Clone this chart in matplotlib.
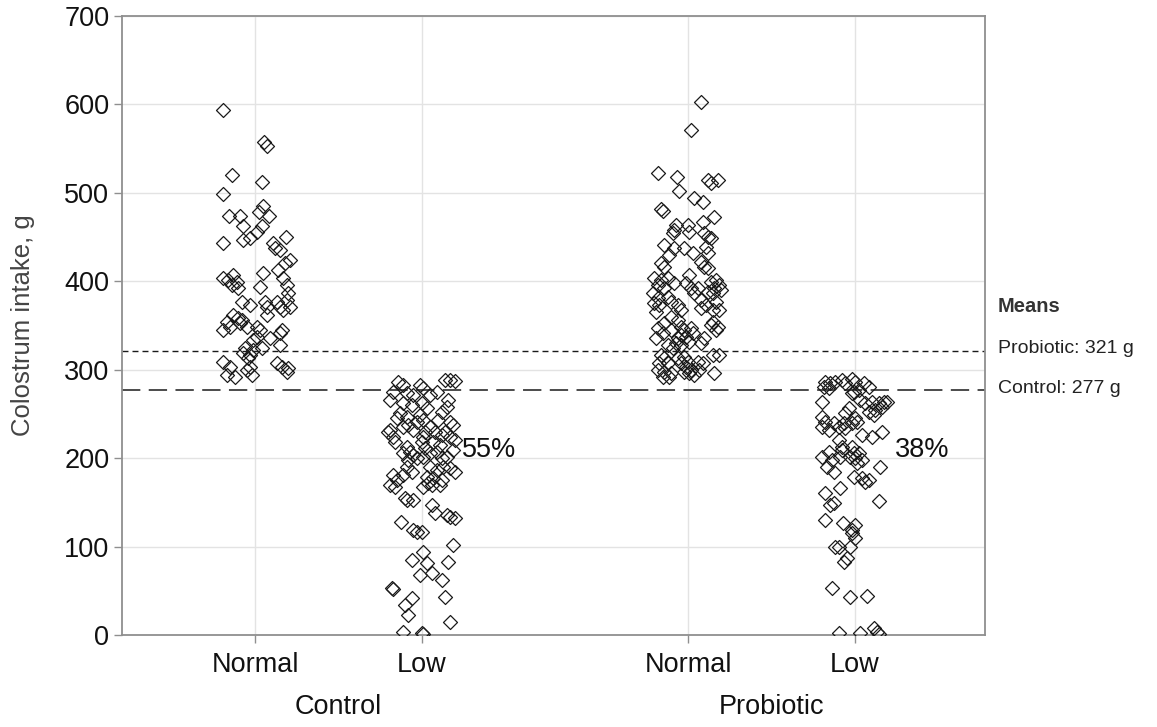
import numpy as np
import matplotlib
matplotlib.use("Agg")
import matplotlib.pyplot as plt
import matplotlib.transforms as mtransforms
from matplotlib.markers import MarkerStyle

plt.rcParams['font.family'] = ['Liberation Sans', 'DejaVu Sans']

# category layout
groups = ["Control", "Probiotic"]
levels = ["Normal", "Low"]
positions = [0.8, 1.8, 3.4, 4.4]
pct_labels = ["55%", "38%"]
mean_control = 277
mean_probiotic = 321

# colostrum intake (g) and horizontal jitter (px) per cell
ctrl_normal = [594, 557, 553, 520, 512, 499, 474, 474, 485, 478, 474, 463, 463, 456,
               443, 447, 449, 450, 443, 438, 435, 424, 421, 413, 409, 394, 404, 401,
               407, 399, 396, 392, 404, 396, 387, 379, 371, 368, 371, 377, 373, 377,
               371, 377, 362, 362, 358, 356, 354, 345, 348, 353, 348, 348, 345, 345,
               341, 337, 334, 336, 328, 325, 319, 317, 313, 322, 325, 309, 303, 294,
               292, 303, 294, 300, 308, 303, 302, 297]
ctrl_normal_jit = [-32, 9, 12, -23, 7, -32, -26, -15, 8, 4, 14, -12, 7, 2,
                   -32, -12, -5, 31, 18, 20, 25, 35, 30, 23, 8, 5, -32, -27,
                   -22, -18, -23, -17, 28, 32, 33, 32, 35, 28, 25, -13, -5, 10,
                   12, 22, 12, -22, -17, -13, -28, -32, -25, -15, -8, 2, 5, 27,
                   25, 2, -2, 15, 25, -10, -12, -5, -7, -2, 7, -32, -25, -28,
                   -20, -5, -3, -8, 22, 27, 33, 32]

ctrl_low = [286, 283, 283, 279, 288, 288, 287, 275, 274, 271, 271, 275, 266, 262,
            260, 262, 257, 266, 258, 251, 247, 245, 249, 243, 241, 252, 243, 241,
            237, 237, 235, 232, 232, 224, 230, 235, 230, 230, 230, 226, 224, 220,
            224, 218, 218, 218, 215, 213, 207, 204, 206, 200, 198, 211, 206, 201,
            207, 200, 201, 209, 189, 184, 190, 187, 190, 190, 184, 181, 181, 175,
            170, 167, 179, 178, 172, 170, 167, 175, 170, 155, 153, 153, 147, 138,
            136, 133, 132, 128, 119, 116, 116, 102, 94, 85, 81, 83, 68, 70, 62,
            53, 52, 42, 34, 43, 23, 15, 3, 2, 1]
ctrl_low_jit = [-24, -19, -2, 1, 23, 28, 33, -29, -15, -9, 8, 15, -32, -19,
                -10, 0, 5, 26, 25, -22, -15, -25, -2, 1, -5, 20, 16, 28,
                31, -14, -19, -9, -32, -29, -34, 8, 3, 13, 23, 20, 28, 33,
                1, 0, -27, 11, 18, -15, -12, -9, -19, -5, -14, 3, 8, 1,
                15, 20, 25, 31, 28, 33, 8, 15, 21, -15, -10, -19, -29, -25,
                -32, -27, 5, 11, 6, 10, 1, 20, 18, -17, -15, -9, 10, 13,
                25, 28, 33, -21, -9, -5, 0, 31, 1, -10, 5, 26, -2, 10, 20,
                -30, -29, -10, -17, 23, -14, 28, -19, 0, 1]

prob_normal = [603, 571, 522, 518, 514, 511, 514, 502, 494, 490, 482, 480, 473, 467,
               464, 458, 455, 464, 456, 455, 450, 449, 441, 438, 438, 432, 439, 432,
               430, 421, 416, 422, 416, 415, 404, 401, 404, 398, 396, 392, 407, 398,
               392, 392, 387, 399, 401, 396, 392, 390, 388, 387, 387, 381, 375, 373,
               365, 382, 377, 373, 368, 379, 373, 377, 368, 368, 370, 360, 356, 353,
               347, 336, 342, 345, 348, 345, 339, 336, 337, 331, 330, 328, 342, 347,
               354, 348, 345, 351, 336, 330, 325, 328, 317, 313, 308, 308, 300, 297,
               296, 292, 292, 313, 314, 308, 309, 303, 300, 297, 296, 294, 300, 308,
               309, 317, 317, 296]
prob_normal_jit = [13, 3, -30, -11, 20, 23, 30, -9, 6, 15, -27, -25, 26, 15,
                   -12, -14, -15, 0, 1, 16, 20, 23, -24, -14, -4, 5, 18, 20,
                   -19, -27, -24, 13, 16, 20, -34, -27, -20, -14, -30, -24, 1, -2,
                   3, 10, 6, 23, 28, 31, 26, 33, 20, 25, -35, -30, -34, -29,
                   -32, -20, -17, -10, -7, 13, 18, 28, 25, 31, 13, -17, -10, -24,
                   -30, -32, -25, -17, -7, -4, -7, -10, -2, 1, -12, -7, 5, 3,
                   25, 30, 28, 23, 16, 13, -15, -20, -27, -24, -29, -20, -30, -24,
                   -17, -25, -19, -10, -4, -7, 0, -2, 3, -4, 1, 6, 11, 15,
                   10, 25, 31, 26]

prob_low = [286, 285, 280, 279, 286, 288, 285, 289, 286, 285, 280, 277, 274, 275,
            263, 266, 262, 263, 262, 263, 263, 254, 252, 249, 258, 257, 251, 245,
            247, 241, 235, 232, 240, 235, 240, 234, 240, 241, 220, 213, 226, 224,
            230, 201, 207, 198, 190, 184, 201, 209, 213, 206, 200, 206, 198, 194,
            201, 190, 179, 178, 173, 175, 161, 166, 152, 147, 149, 130, 127, 124,
            119, 115, 110, 100, 100, 100, 87, 83, 53, 43, 44, 2, 2, 8, 3, 1]
prob_low_jit = [-30, -25, -31, -26, -20, -13, -10, -3, 0, 9, 14, 4, -3, -1,
                -33, 5, 10, 17, 24, 29, 32, 20, 14, 19, 27, -6, -10, 0,
                -33, -30, -33, -26, -21, -16, -11, -10, -3, 2, -16, -13, 7, 17,
                27, -33, -26, -23, -28, -21, -15, -13, -3, -1, 0, 4, 7, 2,
                -5, 25, -1, 7, 10, 14, -30, -15, 24, -25, -21, -30, -12, 0,
                -3, -3, 0, -20, -16, -5, -8, -11, -23, -5, 12, -16, 5, 19, 22, 24]

cells = [(ctrl_normal, ctrl_normal_jit), (ctrl_low, ctrl_low_jit),
         (prob_normal, prob_normal_jit), (prob_low, prob_low_jit)]

fig = plt.figure(figsize=(11.57, 7.27), dpi=100)
ax = fig.add_axes([0.1054, 0.1265, 0.7459, 0.8515])

diamond = MarkerStyle("D", joinstyle="round")
for pos, (vals, jit) in zip(positions, cells):
    x = pos + np.array(jit) / 166.5
    ax.plot(x, vals, linestyle="none", marker=diamond, ms=7, mfc="none",
            mec="#1a1a1a", mew=0.9, zorder=3)

# mean lines
ax.axhline(mean_probiotic, color="#1a1a1a", lw=1.0, dashes=(4.3, 2.9), zorder=2)
ax.axhline(mean_control, color="#1a1a1a", lw=1.1, dashes=(12, 5.5), zorder=2)

ax.set_xlim(0, 5.18)
ax.set_ylim(0, 700)
ax.set_yticks(range(0, 701, 100))
ax.set_xticks(positions, levels * 2)
ax.grid(True, color="#e3e3e3", lw=1.0, zorder=0)
ax.set_axisbelow(True)
for sp in ax.spines.values():
    sp.set_color("#8f8f8f")
    sp.set_linewidth(1.3)
ax.tick_params(axis="both", length=6, width=1.0, color="#8f8f8f",
               labelsize=19.5, labelcolor="#111111", pad=3)
ax.tick_params(axis="x", pad=6)
ax.set_ylabel("Colostrum intake, g", fontsize=18.5, color="#444444")
ax.yaxis.set_label_coords(-0.101, 0.5)

# group labels under the tick labels
trans = mtransforms.blended_transform_factory(ax.transData, ax.transAxes)
for i, g in enumerate(groups):
    xc = (positions[2 * i] + positions[2 * i + 1]) / 2
    ax.text(xc, -0.116, g, transform=trans, ha="center", va="center",
            fontsize=19.5, color="#111111")

# percent of low-intake piglets
for i, p in enumerate(pct_labels):
    ax.text(positions[2 * i + 1] + 0.24, 209, p, ha="left", va="center",
            fontsize=19.5, color="#111111")

# means legend on the right
trans_r = mtransforms.blended_transform_factory(ax.transAxes, ax.transData)
ax.text(1.015, 372, "Means", transform=trans_r, ha="left", va="center",
        fontsize=14.5, fontweight="bold", color="#333333")
ax.text(1.015, mean_probiotic + 3, f"Probiotic: {mean_probiotic} g", transform=trans_r,
        ha="left", va="center", fontsize=14, color="#222222")
ax.text(1.015, mean_control + 2, f"Control: {mean_control} g", transform=trans_r,
        ha="left", va="center", fontsize=14, color="#222222")

fig.savefig("out.png", dpi=100)
